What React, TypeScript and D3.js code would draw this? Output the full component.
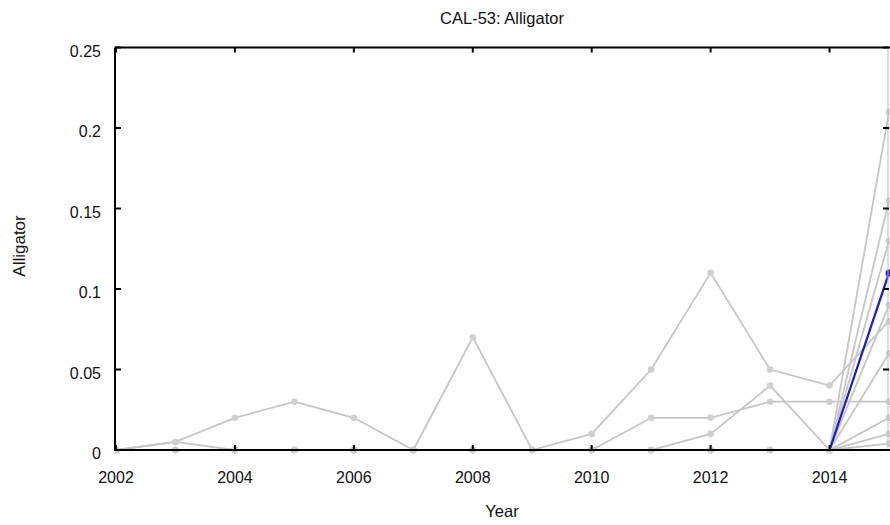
import React from "react";
import * as d3 from "d3";

const years = [2002, 2003, 2004, 2005, 2006, 2007, 2008, 2009, 2010, 2011, 2012, 2013, 2014, 2015];
const xTicks = [2002, 2004, 2006, 2008, 2010, 2012, 2014];
const yTicks = [0, 0.05, 0.1, 0.15, 0.2, 0.25];
const yTickLabels = ["0", "0.05", "0.1", "0.15", "0.2", "0.25"];

type V = number | null;
const grayA: V[] = [0, 0.005, 0.02, 0.03, 0.02, 0, 0.07, 0, 0.01, 0.05, 0.11, 0.05, 0.04, 0.08];
const grayB: V[] = [0, 0.005, 0, 0, 0, 0, 0, 0, 0, 0.02, 0.02, 0.03, 0.03, 0.03];
const grayC: V[] = [0, 0, 0, 0, 0, 0, 0, 0, 0, 0, 0.01, 0.04, 0, 0.13];
const grayD: V[] = [0, 0, 0, 0, 0, 0, 0, 0, 0, 0, 0, 0, 0, 0.21];
const grayE: V[] = [0, 0, 0, 0, 0, 0, 0, 0, 0, 0, 0, 0, 0, 0.155];
const grayF: V[] = [0, 0, 0, 0, 0, 0, 0, 0, 0, 0, 0, 0, 0, 0.09];
const grayG: V[] = [0, 0, 0, 0, 0, 0, 0, 0, 0, 0, 0, 0, 0, 0.06];
const grayH: V[] = [0, 0, 0, 0, 0, 0, 0, 0, 0, 0, 0, 0, 0, 0.02];
const grayI: V[] = [0, 0, 0, 0, 0, 0, 0, 0, 0, 0, 0, 0, 0, 0.01];
const grayJ: V[] = [0, 0, 0, 0, 0, 0, 0, 0, 0, 0, 0, 0, 0, 0.004];
const blueSeries: V[] = [null, null, null, null, null, null, null, null, null, null, null, null, 0, 0.11];

const graySeries = [grayD, grayE, grayF, grayG, grayH, grayI, grayJ, grayC, grayB, grayA];

const W = 890, H = 525;
const left = 115, right = 889, top = 47.5, bottom = 450;

export default function App() {
  const x = d3.scaleLinear().domain([2002, 2015]).range([left + 1, right]);
  const y = d3.scaleLinear().domain([0, 0.25]).range([bottom, top]);
  const line = d3
    .line<V>()
    .defined((d) => d !== null)
    .x((_, i) => x(years[i]))
    .y((d) => y(d as number));

  const font = "'Liberation Sans', Arial, sans-serif";

  return (
    <svg width={W} height={H} style={{ position: "absolute", left: 0, top: 0, background: "#fff" }} fontFamily={font}>
      <defs>
        <clipPath id="plot">
          <rect x={left} y={top - 2} width={right - left + 4} height={bottom - top + 6} />
        </clipPath>
      </defs>
      <text x={(left + right) / 2} y={24} textAnchor="middle" fontSize={16.5} fill="#111">
        CAL-53: Alligator
      </text>
      <g clipPath="url(#plot)">
        {graySeries.map((s, k) => (
          <g key={k}>
            <path d={line(s) || ""} fill="none" stroke="#c6c6c6" strokeWidth={1.8} />
            {s.map((v, i) =>
              v === null ? null : (
                <circle key={i} cx={x(years[i])} cy={y(v)} r={3.3} fill="#d0d0d0" />
              )
            )}
          </g>
        ))}
        <path d={line(blueSeries) || ""} fill="none" stroke="#1a1ad6" strokeWidth={2.2} />
        {blueSeries.map((v, i) =>
          v === null || v === 0 ? null : (
            <circle key={i} cx={x(years[i])} cy={y(v)} r={3.5} fill="#1a1ad6" />
          )
        )}
      </g>
      {/* frame */}
      <line x1={left} x2={right + 2} y1={bottom} y2={bottom} stroke="#000" strokeWidth={2} />
      <line x1={left} x2={right + 2} y1={top} y2={top} stroke="#000" strokeWidth={2} />
      <line x1={left} x2={left} y1={top} y2={bottom + 1} stroke="#000" strokeWidth={2} />
      <line x1={right - 1} x2={right - 1} y1={top} y2={bottom} stroke="#bbb" strokeWidth={1} />
      {yTicks.map((t, i) => (
        <g key={i}>
          <line x1={left} x2={left + 6} y1={y(t)} y2={y(t)} stroke="#000" strokeWidth={2} />
          <line x1={right - 6} x2={right} y1={y(t)} y2={y(t)} stroke="#000" strokeWidth={2} />
          <text x={101} y={y(t) + 9} textAnchor="end" fontSize={16} fill="#111">
            {yTickLabels[i]}
          </text>
        </g>
      ))}
      {xTicks.map((t) => (
        <g key={t}>
          <line x1={x(t)} x2={x(t)} y1={top} y2={top + 5} stroke="#000" strokeWidth={2} />
          <line x1={x(t)} x2={x(t)} y1={bottom} y2={bottom - 5} stroke="#000" strokeWidth={2} />
          <text x={x(t)} y={483} textAnchor="middle" fontSize={16} fill="#111">
            {t}
          </text>
        </g>
      ))}
      <text x={(left + right) / 2} y={517} textAnchor="middle" fontSize={16.5} fill="#111">
        Year
      </text>
      <text
        transform={`translate(25, 246) rotate(-90)`}
        textAnchor="middle"
        fontSize={17}
        fill="#111"
      >
        Alligator
      </text>
    </svg>
  );
}
